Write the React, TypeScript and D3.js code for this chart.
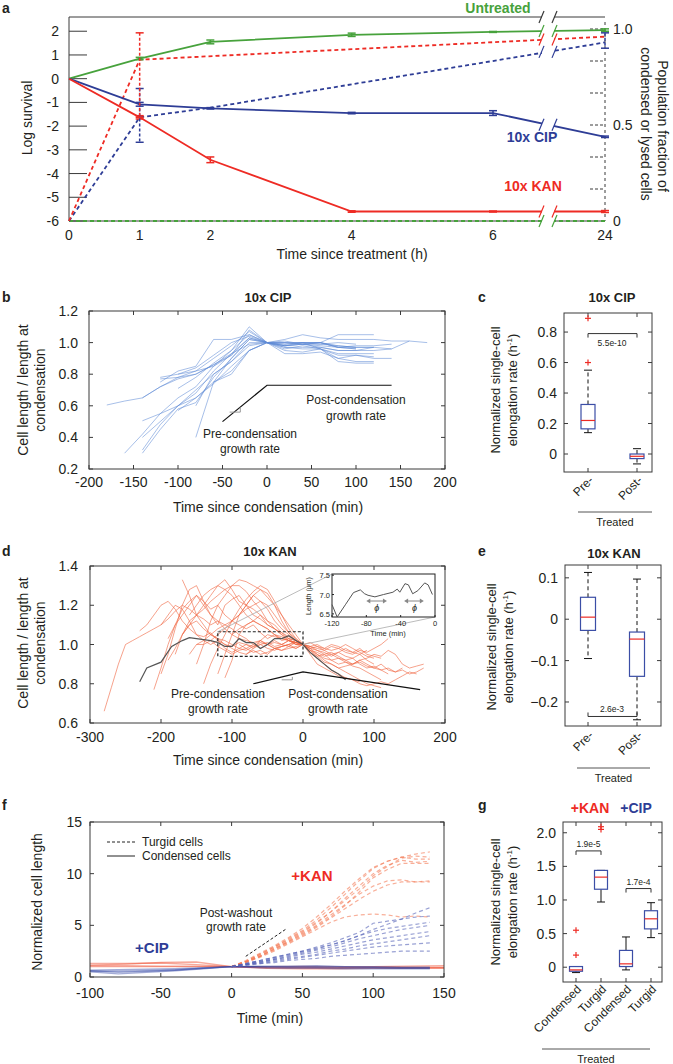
import React from "react";
import * as d3 from "d3";

const FONT = "'Liberation Sans', Arial, Helvetica, sans-serif";
const GREEN = "#47a23c";
const BLUE = "#2e3d96";
const RED = "#ee2b24";
const BOXBLUE = "#3b4ea6";
const AX = "#3a3a3a";
const TXT = "#231f20";

// ---------- Panel a ----------
const timesA = [0, 1, 2, 4, 6, 24];
const untreatedLog = [0, 0.85, 1.55, 1.85, 1.97, 2.05];
const untreatedLogErr = [0, 0.05, 0.08, 0.07, 0.02, 0.05];
const cipLog = [0, -1.08, -1.25, -1.45, -1.45, -2.45];
const cipLogErr = [0, 0.08, 0.03, 0.03, 0.1, 0.03];
const kanLog = [0, -1.63, -3.42, -5.6, -5.6, -5.6];
const kanLogErr = [0, 0.07, 0.12, 0.03, 0.02, 0.04];
const cipFracTimes = [0, 1, 2, 24];
const cipFrac = [0, 0.54, 0.59, 0.93];
const cipFracLo = [0, 0.41, 0.59, 0.9];
const cipFracHi = [0, 0.69, 0.59, 0.98];
const kanFracTimes = [0, 1, 24];
const kanFrac = [0, 0.84, 0.96];
const kanFracLo = [0, 0.54, 0.96];
const kanFracHi = [0, 0.98, 0.96];
const untreatedFrac = [0, 0, 0, 0, 0, 0];
const logTicksA = [-6, -5, -4, -3, -2, -1, 0, 1, 2];
const fracLabelsA = [0, 0.5, 1.0];
const fracTickMarksA = [1 / 6, 2 / 6, 3 / 6, 4 / 6, 5 / 6, 1];

// ---------- Panel b (10x CIP traces, 20-min steps) ----------
const cipTraceStarts = [-180, -160, -140, -140, -140, -80, -140, -120, -100, -100, -80, -60, -120, -100, -120, -140];
const cipTraceValues = [
  [0.605, 0.63, 0.65, 0.72, 0.77, 0.8, 0.86, 0.93, 0.99, 1.0, 0.98, 1.0, 1.0, 0.98, 0.97, 0.97],
  [0.3, 0.42, 0.55, 0.65, 0.72, 0.85, 0.95, 1.05, 1.0, 1.02, 1.05, 1.03, 1.02, 1.02, 1.02, 1.01, 1.01],
  [0.3, 0.45, 0.58, 0.62, 0.78, 0.9, 1.02, 1.0, 0.99, 1.0, 1.0, 1.05, 1.05, 1.05],
  [0.32, 0.48, 0.6, 0.68, 0.82, 0.93, 1.03, 1.0, 0.93, 0.93, 0.94, 0.9, 0.92, 0.9, 0.9],
  [0.505, 0.55, 0.6, 0.7, 0.8, 0.88, 0.98, 1.0, 0.96, 0.98, 0.96, 0.88, 0.87, 0.87],
  [0.4, 0.75, 0.8, 0.95, 1.0, 1.0, 1.0, 0.99, 0.98, 0.97, 0.97, 0.96, 1.01, 1.0],
  [0.65, 0.72, 0.78, 0.82, 0.85, 0.92, 1.08, 1.0, 0.97, 0.97, 0.97, 0.95, 0.95, 0.95, 0.96],
  [0.75, 0.82, 0.85, 1.02, 1.02, 1.05, 1.0, 0.98, 0.99, 1.0, 0.97, 0.96],
  [0.71, 0.78, 0.87, 0.95, 1.1, 1.0, 1.0, 0.99, 0.99, 1.0, 0.99],
  [0.8, 0.82, 0.9, 0.98, 1.07, 1.0, 0.97, 0.96, 0.96, 0.93, 0.93, 0.93],
  [0.6, 0.8, 0.88, 1.0, 1.0, 1.01, 0.99, 0.98, 0.97, 0.98, 0.98, 0.99],
  [0.75, 0.82, 0.95, 1.0, 0.98, 0.99, 1.0, 0.97, 0.96],
  [0.77, 0.78, 0.8, 0.86, 0.92, 1.03, 1.0, 1.0, 1.0, 0.96, 0.92, 0.92, 0.91],
  [0.57, 0.65, 0.74, 0.85, 0.95, 1.0, 0.95, 0.94, 0.96, 0.9, 0.88, 0.88],
  [0.78, 0.8, 0.84, 0.92, 1.0, 1.04, 1.0, 0.98, 0.99, 0.97, 0.95, 0.95, 0.97],
  [0.4, 0.5, 0.6, 0.65, 0.75, 0.9, 1.02, 1.0, 0.99, 1.0, 1.0, 0.97, 0.97],
];
const xTicksB = [-200, -150, -100, -50, 0, 50, 100, 150, 200];
const yTicksB = [0.2, 0.4, 0.6, 0.8, 1.0, 1.2];

// ---------- Panel c ----------
const catsPrePost = ["Pre-", "Post-"];
const cipBoxStats = [
  [0.14, 0.165, 0.22, 0.325, 0.55],
  [-0.065, -0.03, -0.015, 0.0, 0.035],
];
const cipOutliers = [[0.6, 0.89], []];
const yTicksC = [0, 0.2, 0.4, 0.6, 0.8];

// ---------- Panel d (10x KAN traces, 10-min steps) ----------
const kanPreStarts = [-280, -230, -210, -200, -190, -170, -180, -160, -150, -140, -120, -110, -200, -160, -130, -190, -150, -100, -90, -170, -80];
const kanPreValues = [
  [0.66, 0.78, 0.9, 1.0, 1.02, 1.04, 1.06, 1.08, 1.1, 1.13, 1.17, 1.2, 1.18, 1.15, 1.13, 1.1, 1.12, 1.08, 1.05, 1.03, 1.02, 1.01, 1.02, 1.0, 1.01, 1.0, 1.02, 1.01, 1.0],
  [1.07, 1.1, 1.15, 1.2, 1.22, 1.18, 1.12, 1.08, 1.05, 1.04, 1.06, 1.02, 1.0, 0.99, 1.01, 1.0, 0.98, 1.0, 1.01, 0.99, 1.0, 1.02, 1.0, 1.0],
  [0.77, 0.88, 1.0, 1.1, 1.18, 1.22, 1.25, 1.2, 1.15, 1.12, 1.1, 1.08, 1.05, 1.03, 1.0, 0.98, 1.0, 1.02, 1.0, 0.99, 1.01, 1.0],
  [0.85, 0.95, 1.08, 1.2, 1.28, 1.3, 1.22, 1.18, 1.2, 1.15, 1.12, 1.1, 1.08, 1.1, 1.06, 1.03, 1.05, 1.02, 1.03, 1.0, 1.0],
  [1.03, 1.1, 1.15, 1.2, 1.25, 1.22, 1.15, 1.1, 1.2, 1.23, 1.25, 1.2, 1.18, 1.15, 1.1, 1.08, 1.06, 1.04, 1.02, 1.0],
  [1.33, 1.25, 1.15, 1.1, 1.05, 1.03, 1.02, 1.0, 0.98, 1.0, 0.99, 1.01, 1.0, 0.98, 0.99, 1.0, 1.02, 1.0],
  [0.95, 1.05, 1.12, 1.15, 1.2, 1.25, 1.3, 1.28, 1.25, 1.2, 1.15, 1.12, 1.1, 1.08, 1.05, 1.04, 1.02, 1.01, 1.0],
  [1.15, 1.2, 1.25, 1.28, 1.3, 1.33, 1.28, 1.22, 1.2, 1.15, 1.13, 1.1, 1.08, 1.05, 1.03, 1.02, 1.0],
  [0.9, 1.0, 1.12, 1.2, 1.25, 1.3, 1.33, 1.32, 1.3, 1.28, 1.24, 1.2, 1.15, 1.1, 1.05, 1.0],
  [0.8, 0.9, 0.98, 1.05, 1.12, 1.18, 1.23, 1.27, 1.3, 1.28, 1.22, 1.15, 1.08, 1.03, 1.0],
  [0.85, 0.95, 1.05, 1.15, 1.2, 1.25, 1.28, 1.26, 1.2, 1.12, 1.06, 1.02, 1.0],
  [0.83, 0.92, 1.05, 1.1, 1.12, 1.1, 1.08, 1.05, 1.03, 1.02, 1.0, 1.0],
  [1.1, 1.15, 1.2, 1.18, 1.12, 1.05, 1.02, 1.0, 1.02, 0.98, 0.96, 0.98, 0.97, 0.99, 1.0, 0.98, 0.97, 0.99, 1.0, 0.98, 1.0],
  [0.95, 1.0, 1.02, 1.05, 1.08, 1.1, 1.12, 1.15, 1.18, 1.2, 1.22, 1.2, 1.15, 1.1, 1.06, 1.03, 1.0],
  [1.02, 1.05, 1.08, 1.12, 1.15, 1.2, 1.25, 1.22, 1.18, 1.12, 1.08, 1.05, 1.02, 1.0],
  [0.92, 0.98, 1.05, 1.1, 1.12, 1.08, 1.05, 1.03, 1.0, 0.98, 0.96, 0.95, 0.97, 0.95, 0.96, 0.98, 0.97, 0.98, 0.99, 1.0],
  [1.0, 1.0, 1.02, 0.99, 0.97, 0.95, 0.97, 0.98, 0.96, 0.97, 0.95, 0.98, 0.97, 0.99, 0.98, 1.0],
  [1.05, 1.08, 1.1, 1.12, 1.15, 1.12, 1.1, 1.06, 1.03, 1.02, 1.0],
  [1.0, 0.98, 1.0, 1.02, 1.0, 0.98, 0.99, 1.0, 1.01, 1.0],
  [1.05, 1.1, 1.15, 1.18, 1.22, 1.25, 1.28, 1.3, 1.3, 1.27, 1.22, 1.18, 1.12, 1.08, 1.05, 1.02, 1.01, 1.0],
  [0.95, 0.98, 1.02, 1.05, 1.04, 1.03, 1.02, 1.01, 1.0],
];
const kanPostValues = [
  [1.0, 0.97, 0.95, 0.92, 0.9, 0.88, 0.86, 0.84, 0.82, 0.8, 0.79, 0.78],
  [1.0, 0.98, 0.97, 0.95, 0.96, 0.94, 0.92, 0.93, 0.9, 0.88, 0.89, 0.87, 0.88, 0.86, 0.87, 0.85, 0.86, 0.88],
  [1.0, 0.99, 1.0, 0.98, 0.97, 0.98, 0.96, 0.95, 0.97, 0.96, 0.98, 1.0, 1.03],
  [1.0, 0.96, 0.93, 0.9, 0.87, 0.85, 0.83, 0.82, 0.8, 0.79, 0.8, 0.81, 0.8, 0.82, 0.84, 0.86, 0.85],
  [1.0, 0.98, 0.99, 0.97, 0.95, 0.96, 0.94, 0.93, 0.95, 0.92, 0.9],
  [1.0, 1.01, 0.99, 0.98, 1.0, 0.99, 0.97, 0.96, 0.98, 0.95, 0.94, 0.93],
  [1.0, 0.95, 0.9, 0.88, 0.86, 0.84, 0.83, 0.82, 0.81],
  [1.0, 0.97, 0.96, 0.94, 0.95, 0.93, 0.92, 0.9, 0.91, 0.89, 0.88, 0.9, 0.87, 0.86, 0.88],
  [1.0, 0.99, 0.97, 0.96, 0.94, 0.96, 0.98, 0.96, 0.95, 0.97],
  [1.0, 0.98, 0.95, 0.93, 0.92, 0.9, 0.91, 0.89, 0.88, 0.86, 0.84, 0.82],
  [1.0, 0.96, 0.94, 0.91, 0.9, 0.88, 0.89, 0.9, 0.92, 0.9, 0.88, 0.87, 0.85],
  [1.0, 0.99, 0.98, 0.97, 0.99, 0.98, 1.0, 0.98, 0.96, 0.94, 0.93],
  [1.0, 0.97, 0.94, 0.95, 0.92, 0.93, 0.91, 0.9, 0.92, 0.93, 0.95, 0.94, 0.97, 0.95, 0.9, 0.88, 0.89, 0.9],
];
const kanExampleT = [-230, -220, -200, -185, -170, -160, -150, -130, -120, -110, -100, -90, -80, -70, -60, -50, -40, -30, -20, -10, 0, 10, 20, 30, 40, 50, 60];
const kanExampleL = [0.81, 0.88, 0.91, 0.99, 1.02, 1.035, 1.03, 1.02, 1.01, 0.99, 0.99, 1.03, 1.01, 1.01, 0.98, 1.0, 1.03, 1.03, 1.045, 1.02, 1.0, 0.96, 0.93, 0.9, 0.87, 0.85, 0.82];
const insetT = [-120, -114, -104, -95, -87, -82, -78, -70, -60, -49, -44, -41, -35, -31, -26, -20, -12, -8, -3];
const insetL = [6.74, 6.42, 6.75, 7.05, 7.12, 7.02, 6.98, 6.94, 7.0, 7.06, 7.14, 7.06, 7.28, 7.25, 7.02, 7.1, 7.3, 7.25, 7.0];
const xTicksD = [-300, -200, -100, 0, 100, 200];
const yTicksD = [0.6, 0.8, 1.0, 1.2, 1.4];
const insetXTicks = [-120, -80, -40, 0];
const insetYTicks = [6.5, 7.0, 7.5];

// ---------- Panel e ----------
const kanBoxStats = [
  [-0.095, -0.027, 0.005, 0.053, 0.113],
  [-0.243, -0.138, -0.048, -0.031, 0.097],
];
const yTicksE = [-0.2, -0.1, 0, 0.1];

// ---------- Panel f ----------
const fTurgidT = [0, 10, 20, 30, 40, 50, 60, 70, 80, 90, 100, 110, 120, 130, 140];
const fKanTurgid = [
  [1, 1.6, 2.3, 3.0, 3.8, 4.7, 5.8, 7.0, 8.3, 9.5, 10.6, 11.2, 11.6, 11.9, 12.1],
  [1, 1.5, 2.2, 2.9, 3.7, 4.5, 5.5, 6.7, 8.0, 9.3, 10.5, 11.2, 11.6, 11.4, 11.4],
  [1, 1.5, 2.1, 2.8, 3.5, 4.3, 5.2, 6.3, 7.6, 8.8, 10.0, 10.8, 11.3, 11.1, 11.2],
  [1, 1.5, 2.0, 2.7, 3.4, 4.2, 5.0, 6.0, 7.0, 8.0, 8.8, 9.3, 9.4, 9.2, 9.3],
  [1, 1.4, 2.0, 2.6, 3.3, 4.0, 4.8, 5.7, 6.6, 7.5, 8.3, 8.9, 9.2, 9.2, 9.2],
  [1, 1.4, 1.9, 2.5, 3.2, 3.9, 4.6, 5.3, 5.8, 6.0, 6.1, 6.0, 5.8, 5.9, 5.8],
  [1, 1.5, 2.2, 2.9, 3.6, 4.4, 5.3, 6.3, 7.4, 8.5, 9.8, 10.7, 11.5, 11.7, 11.6],
  [1, 1.4, 2.0, 2.7, 3.4, 4.1, 4.9, 5.8, 6.9, 8.2, 9.6, 10.4, 11.0, 11.0, 11.0],
];
const fCipTurgid = [
  [1, 1.3, 1.6, 1.9, 2.2, 2.5, 2.8, 3.1, 3.5, 4.0, 4.6, 5.1, 5.6, 6.2, 6.7],
  [1, 1.3, 1.6, 1.9, 2.2, 2.5, 2.9, 3.3, 3.8, 4.3, 5.2, 5.4, 5.6, 5.8, 5.9],
  [1, 1.3, 1.5, 1.8, 2.1, 2.4, 2.7, 3.1, 3.5, 4.0, 4.4, 4.7, 4.9, 5.1, 5.3],
  [1, 1.2, 1.5, 1.7, 2.0, 2.3, 2.6, 2.9, 3.3, 3.7, 4.0, 4.3, 4.6, 4.8, 5.0],
  [1, 1.2, 1.4, 1.7, 1.9, 2.2, 2.4, 2.7, 3.0, 3.3, 3.6, 3.8, 4.0, 4.2, 4.4],
  [1, 1.2, 1.4, 1.6, 1.8, 2.0, 2.2, 2.5, 2.7, 3.0, 3.2, 3.4, 3.6, 3.8, 4.0],
  [1, 1.2, 1.3, 1.5, 1.7, 1.9, 2.1, 2.3, 2.5, 2.7, 2.9, 3.0, 3.1, 3.2, 3.3],
  [1, 1.1, 1.3, 1.4, 1.6, 1.7, 1.8, 2.0, 2.1, 2.2, 2.3, 2.4, 2.5, 2.5, 2.5],
];
const fKanSolidT = [-100, -75, -50, -25, 0, 25, 50, 75, 100, 125, 150];
const fKanSolid = [
  [1.3, 1.3, 1.35, 1.2, 1.0, 0.85, 0.8, 0.8, 0.85, 0.9, 0.95],
  [1.0, 1.0, 1.0, 1.0, 1.0, 0.95, 0.95, 0.9, 0.9, 0.85, 0.85],
  [1.15, 1.25, 1.4, 1.45, 1.0, 0.9, 0.88, 0.9, 1.0, 1.05, 1.1],
  [1.1, 1.1, 1.05, 1.05, 1.0, 1.0, 1.02, 1.0, 0.98, 0.95, 0.9],
];
const fCipSolidT = [-100, -80, -60, -40, -20, 0, 20, 40, 60, 80, 100, 120, 140];
const fCipSolid = [
  [0.5, 0.3, 0.45, 0.6, 0.8, 1.0, 1.0, 1.0, 0.95, 0.9, 0.9, 0.85, 0.85],
  [0.55, 0.55, 0.6, 0.7, 0.85, 1.0, 1.05, 1.05, 1.1, 1.0, 0.95, 0.9, 0.9],
  [0.65, 0.7, 0.75, 0.8, 0.9, 1.0, 0.9, 0.85, 0.85, 0.8, 0.8, 0.8, 0.8],
  [0.6, 0.45, 0.55, 0.65, 0.85, 1.0, 1.0, 0.95, 1.0, 1.0, 1.0, 0.95, 0.95],
];
const xTicksF = [-100, -50, 0, 50, 100, 150];
const yTicksF = [0, 5, 10, 15];

// ---------- Panel g ----------
const catsG = ["Condensed", "Turgid", "Condensed ", "Turgid "];
const gBoxStats = [
  [-0.08, -0.06, -0.04, 0.01, 0.01],
  [0.97, 1.16, 1.34, 1.44, 1.44],
  [-0.04, 0.01, 0.05, 0.25, 0.45],
  [0.44, 0.57, 0.72, 0.84, 0.96],
];
const gOutliers = [[0.55, 0.18], [2.05, 2.09], [], []];
const yTicksG = [0, 0.5, 1.0, 1.5, 2.0];

// ---------- helpers ----------
const fmt1 = (v: number) => (Math.abs(v) < 1e-9 ? "0" : d3.format(".1f")(v));

function Frame({ x0, x1, y0, y1, xt, yt, len = 4 }: any) {
  return (
    <g stroke={AX} strokeWidth={1} fill="none">
      <rect x={x0} y={y0} width={x1 - x0} height={y1 - y0} />
      {xt.map((x: number, i: number) => (
        <g key={"x" + i}>
          <line x1={x} x2={x} y1={y1} y2={y1 - len} />
          <line x1={x} x2={x} y1={y0} y2={y0 + len} />
        </g>
      ))}
      {yt.map((y: number, i: number) => (
        <g key={"y" + i}>
          <line x1={x0} x2={x0 + len} y1={y} y2={y} />
          <line x1={x1} x2={x1 - len} y1={y} y2={y} />
        </g>
      ))}
    </g>
  );
}

function YLabel2({ x1, x2, cy, l1, l2, size = 14 }: any) {
  return (
    <g fill={TXT} fontSize={size} textAnchor="middle">
      <text transform={`translate(${x1},${cy}) rotate(-90)`}>{l1}</text>
      <text transform={`translate(${x2},${cy}) rotate(-90)`}>{l2}</text>
    </g>
  );
}

function RateLabel({ x1, x2, cy }: any) {
  return (
    <g fill={TXT} fontSize={13} textAnchor="middle">
      <text transform={`translate(${x1},${cy}) rotate(-90)`}>Normalized single-cell</text>
      <text transform={`translate(${x2},${cy}) rotate(-90)`}>
        <tspan>elongation rate (h</tspan>
        <tspan dy={-5} fontSize={8}>-1</tspan>
        <tspan dy={5}>)</tspan>
      </text>
    </g>
  );
}

function Box({ cx, s, y, w = 14, dashed = true, outliers = [] }: any) {
  const dash = dashed ? "4,3" : undefined;
  return (
    <g>
      <line x1={cx} x2={cx} y1={y(s[3])} y2={y(s[4])} stroke="#111" strokeDasharray={dash} />
      <line x1={cx} x2={cx} y1={y(s[1])} y2={y(s[0])} stroke="#111" strokeDasharray={dash} />
      <line x1={cx - 4} x2={cx + 4} y1={y(s[4])} y2={y(s[4])} stroke="#111" />
      <line x1={cx - 4} x2={cx + 4} y1={y(s[0])} y2={y(s[0])} stroke="#111" />
      <rect x={cx - w / 2} y={y(s[3])} width={w} height={Math.max(1, y(s[1]) - y(s[3]))} fill="#fff" stroke={BOXBLUE} strokeWidth={1.2} />
      <line x1={cx - w / 2} x2={cx + w / 2} y1={y(s[2])} y2={y(s[2])} stroke={RED} strokeWidth={1.2} />
      {outliers.map((o: number, i: number) => (
        <g key={i} stroke={RED} strokeWidth={1.2}>
          <line x1={cx - 3} x2={cx + 3} y1={y(o)} y2={y(o)} />
          <line x1={cx} x2={cx} y1={y(o) - 3} y2={y(o) + 3} />
        </g>
      ))}
    </g>
  );
}

function RotLabels({ xs, cats, y, size = 12 }: any) {
  return (
    <g fill={TXT} fontSize={size} textAnchor="end">
      {cats.map((c: string, i: number) => (
        <text key={i} transform={`translate(${xs(c) + 6},${y}) rotate(-45)`}>{c.trim()}</text>
      ))}
    </g>
  );
}

function Treated({ x0, x1, y }: any) {
  return (
    <g>
      <line x1={x0} x2={x1} y1={y} y2={y} stroke="#555" strokeWidth={1} />
      <text x={(x0 + x1) / 2} y={y + 14} textAnchor="middle" fontSize={11} fill={TXT}>Treated</text>
    </g>
  );
}

// ---------- Panel a ----------
function PanelA() {
  const x = d3.scaleLinear().domain([0, 6, 24]).range([69, 493, 605]);
  const yL = d3.scaleLinear().domain([-6, 2.6]).range([221, 17]);
  const yR = d3.scaleLinear().domain([0, 1]).range([221, 29]);
  const L = 69, R = 605, T = 17, B = 221;
  const brk = 548;
  const line = d3.line();
  const ptsSolid = (vals: number[]) => timesA.map((t, i) => [x(t), yL(vals[i])] as [number, number]);
  const ptsFrac = (ts: number[], vals: number[]) => ts.map((t, i) => [x(t), yR(vals[i])] as [number, number]);
  const yAt = (pts: [number, number][], px: number) => {
    for (let i = 0; i < pts.length - 1; i++) {
      const [ax, ay] = pts[i], [bx, by] = pts[i + 1];
      if (px >= ax && px <= bx) return ay + ((px - ax) / (bx - ax)) * (by - ay);
    }
    return pts[pts.length - 1][1];
  };
  const gS = ptsSolid(untreatedLog), bS = ptsSolid(cipLog), rS = ptsSolid(kanLog);
  const bD = ptsFrac(cipFracTimes, cipFrac), rD = ptsFrac(kanFracTimes, kanFrac), gD = ptsFrac(timesA, untreatedFrac);
  const Err = ({ cx, y1, y2, color, dashed }: any) => (
    <g stroke={color} strokeWidth={1.5}>
      <line x1={cx} x2={cx} y1={y1} y2={y2} strokeDasharray={dashed ? "3,2" : undefined} />
      <line x1={cx - 4} x2={cx + 4} y1={y1} y2={y1} />
      <line x1={cx - 4} x2={cx + 4} y1={y2} y2={y2} />
    </g>
  );
  const breaks: [number, string][] = [
    [T, AX], [yAt(gS, brk), GREEN], [yAt(rD, brk), RED], [yAt(bD, brk), BLUE], [yAt(bS, brk), BLUE], [yAt(rS, brk), RED], [B, GREEN],
  ];
  return (
    <g>
      <text x={2} y={13} fontSize={14} fontWeight="bold" fill={TXT}>a</text>
      <line x1={L} x2={L} y1={T} y2={B} stroke={AX} />
      <line x1={L} x2={R} y1={T} y2={T} stroke={AX} />
      <line x1={L} x2={R} y1={B} y2={B} stroke={AX} />
      <line x1={R} x2={R} y1={T + 5} y2={B} stroke={AX} strokeDasharray="3,3" />
      {logTicksA.map((v) => (
        <g key={v}>
          <line x1={L} x2={L + 18} y1={yL(v)} y2={yL(v)} stroke={AX} />
          <text x={59} y={yL(v) + 5} textAnchor="end" fontSize={14} fill={TXT}>{v}</text>
        </g>
      ))}
      {fracTickMarksA.map((v, i) => (
        <line key={i} x1={R - 15} x2={R} y1={yR(v)} y2={yR(v)} stroke={AX} strokeDasharray="3,2" />
      ))}
      {fracLabelsA.map((v) => (
        <text key={v} x={613} y={yR(v) + 5} fontSize={14} fill={TXT}>{v === 0 ? "0" : d3.format(".1f")(v)}</text>
      ))}
      {timesA.map((t) => (
        <text key={t} x={x(t)} y={240} textAnchor="middle" fontSize={14} fill={TXT}>{t}</text>
      ))}
      <text x={352} y={259} textAnchor="middle" fontSize={14} fill={TXT}>Time since treatment (h)</text>
      <text transform="translate(32,118) rotate(-90)" textAnchor="middle" fontSize={14} fill={TXT}>Log survival</text>
      <text transform="translate(658,126) rotate(90)" textAnchor="middle" fontSize={14} fill={TXT}>Population fraction of</text>
      <text transform="translate(641,124) rotate(90)" textAnchor="middle" fontSize={14} fill={TXT}>condensed or lysed cells</text>
      <path d={line(gD) || ""} stroke={GREEN} strokeWidth={1.8} fill="none" strokeDasharray="4,3" />
      <path d={line(bD) || ""} stroke={BLUE} strokeWidth={1.8} fill="none" strokeDasharray="4,3" />
      <path d={line(rD) || ""} stroke={RED} strokeWidth={1.8} fill="none" strokeDasharray="4,3" />
      <path d={line(gS) || ""} stroke={GREEN} strokeWidth={1.8} fill="none" />
      <path d={line(bS) || ""} stroke={BLUE} strokeWidth={1.8} fill="none" />
      <path d={line(rS) || ""} stroke={RED} strokeWidth={1.8} fill="none" />
      {timesA.map((t, i) => i > 0 && (
        <g key={"e" + i}>
          <Err cx={x(t)} y1={yL(untreatedLog[i] + untreatedLogErr[i])} y2={yL(untreatedLog[i] - untreatedLogErr[i])} color={GREEN} />
          <Err cx={x(t)} y1={yL(cipLog[i] + cipLogErr[i])} y2={yL(cipLog[i] - cipLogErr[i])} color={BLUE} />
          <Err cx={x(t)} y1={yL(kanLog[i] + kanLogErr[i])} y2={yL(kanLog[i] - kanLogErr[i])} color={RED} />
        </g>
      ))}
      {cipFracTimes.map((t, i) => i > 0 && cipFracHi[i] > cipFracLo[i] && (
        <Err key={"cf" + i} cx={x(t)} y1={yR(cipFracHi[i])} y2={yR(cipFracLo[i])} color={BLUE} dashed />
      ))}
      {kanFracTimes.map((t, i) => i > 0 && kanFracHi[i] > kanFracLo[i] && (
        <Err key={"kf" + i} cx={x(t)} y1={yR(kanFracHi[i])} y2={yR(kanFracLo[i])} color={RED} dashed />
      ))}
      <rect x={brk - 6} y={10} width={12} height={216} fill="#fff" />
      {breaks.map(([yy, c], i) => (
        <g key={"b" + i} stroke={c} strokeWidth={1.2}>
          <line x1={brk - 9} x2={brk - 4} y1={yy + 6} y2={yy - 6} />
          <line x1={brk + 4} x2={brk + 9} y1={yy + 6} y2={yy - 6} />
        </g>
      ))}
      <text x={498} y={13} textAnchor="middle" fontSize={14} fontWeight="bold" fill={GREEN}>Untreated</text>
      <text x={532} y={142} textAnchor="middle" fontSize={14} fontWeight="bold" fill={BLUE}>10x CIP</text>
      <text x={533} y={191} textAnchor="middle" fontSize={14} fontWeight="bold" fill={RED}>10x KAN</text>
    </g>
  );
}

// ---------- Panel b ----------
function PanelB() {
  const x = d3.scaleLinear().domain([-200, 200]).range([89, 445]);
  const y = d3.scaleLinear().domain([0.2, 1.2]).range([469, 311]);
  const path = (start: number, vals: number[]) =>
    d3.line<number>().x((_, i) => x(start + i * 20)).y((v) => y(v))(vals) || "";
  return (
    <g>
      <text x={2} y={302} fontSize={14} fontWeight="bold" fill={TXT}>b</text>
      <text x={268} y={302} textAnchor="middle" fontSize={13} fontWeight="bold" fill={TXT}>10x CIP</text>
      {cipTraceValues.map((vals, i) => (
        <path key={i} d={path(cipTraceStarts[i], vals)} stroke="#5f8bd6" strokeOpacity={0.55} strokeWidth={1} fill="none" />
      ))}
      <Frame x0={89} x1={445} y0={311} y1={469} xt={xTicksB.map(x)} yt={yTicksB.map(y)} />
      {yTicksB.map((v) => (
        <text key={v} x={78} y={y(v) + 5} textAnchor="end" fontSize={14} fill={TXT}>{fmt1(v)}</text>
      ))}
      {xTicksB.map((v) => (
        <text key={v} x={x(v)} y={487} textAnchor="middle" fontSize={14} fill={TXT}>{v}</text>
      ))}
      <text x={268} y={512} textAnchor="middle" fontSize={14} fill={TXT}>Time since condensation (min)</text>
      <YLabel2 x1={28} x2={45} cy={390} l1="Cell length / length at" l2="condensation" />
      <path d={`M${x(-50)},${y(0.5)}L${x(0)},${y(0.73)}L${x(140)},${y(0.73)}`} stroke="#111" strokeWidth={1.2} fill="none" />
      <path d={`M${x(-30)},${y(0.56)}L${x(-30)},${y(0.59)}M${x(-42)},${y(0.56)}L${x(-30)},${y(0.56)}`} stroke="#999" strokeWidth={1} fill="none" />
      <g fill={TXT} fontSize={12} textAnchor="middle">
        <text x={356} y={404}>Post-condensation</text>
        <text x={356} y={420}>growth rate</text>
        <text x={250} y={438}>Pre-condensation</text>
        <text x={250} y={453}>growth rate</text>
      </g>
    </g>
  );
}

// ---------- Panel c ----------
function PanelC() {
  const y = d3.scaleLinear().domain([-0.118, 0.925]).range([472, 313]);
  const xs = d3.scalePoint().domain(catsPrePost).range([588, 637]);
  const by = y(0.79);
  return (
    <g>
      <text x={478} y={302} fontSize={14} fontWeight="bold" fill={TXT}>c</text>
      <text x={612} y={302} textAnchor="middle" fontSize={13} fontWeight="bold" fill={TXT}>10x CIP</text>
      <Frame x0={564} x1={652} y0={313} y1={472} xt={catsPrePost.map((c) => xs(c))} yt={yTicksC.map(y)} />
      {cipBoxStats.map((s, i) => (
        <Box key={i} cx={xs(catsPrePost[i])} s={s} y={y} outliers={cipOutliers[i]} />
      ))}
      <path d={`M${xs("Pre-")},${by + 4}V${by}H${xs("Post-")}V${by + 4}`} stroke="#333" fill="none" />
      <text x={612} y={by + 12} textAnchor="middle" fontSize={8.5} fill={TXT}>5.5e-10</text>
      {yTicksC.map((v) => (
        <text key={v} x={557} y={y(v) + 5} textAnchor="end" fontSize={14} fill={TXT}>{fmt1(v)}</text>
      ))}
      <RateLabel x1={500} x2={517} cy={390} />
      <RotLabels xs={xs} cats={catsPrePost} y={481} />
      <Treated x0={578} x1={652} y={512} />
    </g>
  );
}

// ---------- Panel d ----------
function PanelD() {
  const x = d3.scaleLinear().domain([-300, 200]).range([90, 445]);
  const y = d3.scaleLinear().domain([0.6, 1.4]).range([723, 566]);
  const path = (start: number, vals: number[]) =>
    d3.line<number>().x((_, i) => x(start + i * 10)).y((v) => y(v))(vals) || "";
  const ix = d3.scaleLinear().domain([-120, 0]).range([332, 435]);
  const iy = d3.scaleLinear().domain([6.42, 7.53]).range([617, 574]);
  const insetPath = d3.line<number>().x((_, i) => ix(insetT[i])).y((v) => iy(v))(insetL) || "";
  const exPath = d3.line<number>().x((_, i) => x(kanExampleT[i])).y((v) => y(v))(kanExampleL) || "";
  const arrow = (a: number, b: number, yy: number) => (
    <g stroke="#888" fill="#888" strokeWidth={1}>
      <line x1={ix(a) + 3} x2={ix(b) - 3} y1={yy} y2={yy} />
      <path d={`M${ix(a)},${yy}l4,-2.5v5z`} stroke="none" />
      <path d={`M${ix(b)},${yy}l-4,-2.5v5z`} stroke="none" />
    </g>
  );
  return (
    <g>
      <text x={2} y={556} fontSize={14} fontWeight="bold" fill={TXT}>d</text>
      <text x={270} y={556} textAnchor="middle" fontSize={13} fontWeight="bold" fill={TXT}>10x KAN</text>
      <defs>
        <clipPath id="clipD"><rect x={90} y={566} width={355} height={157} /></clipPath>
      </defs>
      <g clipPath="url(#clipD)">
        {kanPreValues.map((vals, i) => (
          <path key={"p" + i} d={path(kanPreStarts[i], vals)} stroke="#f0643f" strokeOpacity={0.6} strokeWidth={1} fill="none" />
        ))}
        {kanPostValues.map((vals, i) => (
          <path key={"q" + i} d={path(0, vals)} stroke="#f0643f" strokeOpacity={0.6} strokeWidth={1} fill="none" />
        ))}
        <path d={exPath} stroke="#555" strokeWidth={1.2} fill="none" />
      </g>
      <Frame x0={90} x1={445} y0={566} y1={723} xt={xTicksD.map(x)} yt={yTicksD.map(y)} />
      <rect x={x(-120)} y={y(1.065)} width={x(0) - x(-120)} height={y(0.94) - y(1.065)} fill="none" stroke="#222" strokeWidth={1.2} strokeDasharray="3,2" />
      <line x1={x(-120)} y1={y(1.065)} x2={332} y2={574} stroke="#aaa" strokeWidth={0.8} />
      <line x1={x(0)} y1={y(1.0)} x2={435} y2={617} stroke="#aaa" strokeWidth={0.8} />
      <rect x={332} y={574} width={103} height={43} fill="#fff" stroke="#222" strokeWidth={1} />
      <path d={insetPath} stroke="#555" strokeWidth={1} fill="none" />
      {insetXTicks.map((v) => (
        <g key={v}>
          <line x1={ix(v)} x2={ix(v)} y1={617} y2={615} stroke="#222" />
          <text x={ix(v)} y={626} textAnchor="middle" fontSize={7.5} fill={TXT}>{v}</text>
        </g>
      ))}
      {insetYTicks.map((v) => (
        <g key={v}>
          <line x1={332} x2={334} y1={iy(v)} y2={iy(v)} stroke="#222" />
          <text x={330} y={iy(v) + 3} textAnchor="end" fontSize={7.5} fill={TXT}>{v.toFixed(1)}</text>
        </g>
      ))}
      <text transform="translate(311,596) rotate(-90)" textAnchor="middle" fontSize={7} fill={TXT}>Length (μm)</text>
      <text x={388} y={636} textAnchor="middle" fontSize={7.5} fill={TXT}>Time (min)</text>
      {arrow(-80, -56, 601)}
      {arrow(-36, -13, 601)}
      <text x={ix(-68)} y={611} textAnchor="middle" fontSize={9} fontStyle="italic" fill={TXT}>ϕ</text>
      <text x={ix(-24)} y={611} textAnchor="middle" fontSize={9} fontStyle="italic" fill={TXT}>ϕ</text>
      {yTicksD.map((v) => (
        <text key={v} x={78} y={y(v) + 5} textAnchor="end" fontSize={14} fill={TXT}>{fmt1(v)}</text>
      ))}
      {xTicksD.map((v) => (
        <text key={v} x={x(v)} y={742} textAnchor="middle" fontSize={14} fill={TXT}>{v}</text>
      ))}
      <text x={268} y={765} textAnchor="middle" fontSize={14} fill={TXT}>Time since condensation (min)</text>
      <YLabel2 x1={28} x2={45} cy={643} l1="Cell length / length at" l2="condensation" />
      <path d={`M${x(-70)},${y(0.8)}L${x(0)},${y(0.86)}L${x(165)},${y(0.77)}`} stroke="#111" strokeWidth={1.2} fill="none" />
      <path d={`M${x(-30)},${y(0.82)}L${x(-15)},${y(0.82)}L${x(-15)},${y(0.835)}`} stroke="#999" strokeWidth={1} fill="none" />
      <g fill={TXT} fontSize={12} textAnchor="middle">
        <text x={218} y={698}>Pre-condensation</text>
        <text x={218} y={713}>growth rate</text>
        <text x={338} y={698}>Post-condensation</text>
        <text x={338} y={713}>growth rate</text>
      </g>
    </g>
  );
}

// ---------- Panel e ----------
function PanelE() {
  const y = d3.scaleLinear().domain([-0.258, 0.131]).range([726, 565]);
  const xs = d3.scalePoint().domain(catsPrePost).range([588, 637]);
  const by = y(-0.235);
  return (
    <g>
      <text x={478} y={556} fontSize={14} fontWeight="bold" fill={TXT}>e</text>
      <text x={614} y={558} textAnchor="middle" fontSize={13} fontWeight="bold" fill={TXT}>10x KAN</text>
      <Frame x0={565} x1={661} y0={565} y1={726} xt={catsPrePost.map((c) => xs(c))} yt={yTicksE.map(y)} />
      {kanBoxStats.map((s, i) => (
        <Box key={i} cx={xs(catsPrePost[i])} s={s} y={y} w={15} />
      ))}
      <path d={`M${xs("Pre-")},${by - 4}V${by}H${xs("Post-")}V${by - 4}`} stroke="#333" fill="none" />
      <text x={612} y={by - 4} textAnchor="middle" fontSize={8.5} fill={TXT}>2.6e-3</text>
      {yTicksE.map((v) => (
        <text key={v} x={558} y={y(v) + 5} textAnchor="end" fontSize={14} fill={TXT}>{fmt1(v)}</text>
      ))}
      <RateLabel x1={496} x2={513} cy={647} />
      <RotLabels xs={xs} cats={catsPrePost} y={736} />
      <Treated x0={577} x1={650} y={768} />
    </g>
  );
}

// ---------- Panel f ----------
function PanelF() {
  const x = d3.scaleLinear().domain([-100, 150]).range([90, 444]);
  const y = d3.scaleLinear().domain([0, 15]).range([977, 822]);
  const mk = (ts: number[]) => (vals: number[]) =>
    d3.line<number>().x((_, i) => x(ts[i])).y((v) => y(v))(vals) || "";
  const pT = mk(fTurgidT), pK = mk(fKanSolidT), pC = mk(fCipSolidT);
  return (
    <g>
      <text x={2} y={810} fontSize={14} fontWeight="bold" fill={TXT}>f</text>
      <defs>
        <clipPath id="clipF"><rect x={90} y={822} width={354} height={155} /></clipPath>
      </defs>
      <g clipPath="url(#clipF)">
        {fKanSolid.map((v, i) => (
          <path key={"ks" + i} d={pK(v)} stroke="#f0553a" strokeOpacity={0.5} strokeWidth={1.4} fill="none" />
        ))}
        {fCipSolid.map((v, i) => (
          <path key={"cs" + i} d={pC(v)} stroke="#3446a6" strokeOpacity={0.45} strokeWidth={1.4} fill="none" />
        ))}
        {fKanTurgid.map((v, i) => (
          <path key={"kt" + i} d={pT(v)} stroke="#f47a55" strokeOpacity={0.6} strokeWidth={1.2} strokeDasharray="4,3" fill="none" />
        ))}
        {fCipTurgid.map((v, i) => (
          <path key={"ct" + i} d={pT(v)} stroke="#5563b8" strokeOpacity={0.6} strokeWidth={1.2} strokeDasharray="4,3" fill="none" />
        ))}
      </g>
      <Frame x0={90} x1={444} y0={822} y1={977} xt={xTicksF.map(x)} yt={yTicksF.map(y)} />
      {yTicksF.map((v) => (
        <text key={v} x={82} y={y(v) + 5} textAnchor="end" fontSize={14} fill={TXT}>{v}</text>
      ))}
      {xTicksF.map((v) => (
        <text key={v} x={x(v)} y={998} textAnchor="middle" fontSize={14} fill={TXT}>{v}</text>
      ))}
      <text x={270} y={1023} textAnchor="middle" fontSize={14} fill={TXT}>Time (min)</text>
      <text transform="translate(42,902) rotate(-90)" textAnchor="middle" fontSize={14} fill={TXT}>Normalized cell length</text>
      <line x1={107} x2={135} y1={842} y2={842} stroke="#222" strokeDasharray="3,2" />
      <text x={142} y={846} fontSize={12} fill={TXT}>Turgid cells</text>
      <line x1={107} x2={135} y1={856} y2={856} stroke="#222" />
      <text x={142} y={860} fontSize={12} fill={TXT}>Condensed cells</text>
      <text x={312} y={881} textAnchor="middle" fontSize={15} fontWeight="bold" fill={RED}>+KAN</text>
      <text x={152} y={953} textAnchor="middle" fontSize={15} fontWeight="bold" fill={BLUE}>+CIP</text>
      <text x={236} y={917} textAnchor="middle" fontSize={12} fill={TXT}>Post-washout</text>
      <text x={236} y={931} textAnchor="middle" fontSize={12} fill={TXT}>growth rate</text>
      <line x1={x(10)} y1={y(2)} x2={x(38)} y2={y(4.6)} stroke="#222" strokeDasharray="3,2" />
    </g>
  );
}

// ---------- Panel g ----------
function PanelG() {
  const y = d3.scaleLinear().domain([-0.22, 2.16]).range([982, 822]);
  const xs = d3.scalePoint().domain(catsG).range([576, 651]);
  const b1 = y(1.73), b2 = y(1.17);
  return (
    <g>
      <text x={478} y={810} fontSize={14} fontWeight="bold" fill={TXT}>g</text>
      <text x={590} y={813} textAnchor="middle" fontSize={14} fontWeight="bold" fill={RED}>+KAN</text>
      <text x={636} y={813} textAnchor="middle" fontSize={14} fontWeight="bold" fill={BLUE}>+CIP</text>
      <Frame x0={563} x1={662} y0={822} y1={982} xt={catsG.map((c) => xs(c))} yt={yTicksG.map(y)} />
      {gBoxStats.map((s, i) => (
        <Box key={i} cx={xs(catsG[i])} s={s} y={y} w={13} dashed={false} outliers={gOutliers[i]} />
      ))}
      <path d={`M${xs(catsG[0])},${b1 + 4}V${b1}H${xs(catsG[1])}V${b1 + 4}`} stroke="#333" fill="none" />
      <text x={(xs(catsG[0])! + xs(catsG[1])!) / 2} y={b1 - 4} textAnchor="middle" fontSize={8.5} fill={TXT}>1.9e-5</text>
      <path d={`M${xs(catsG[2])},${b2 + 4}V${b2}H${xs(catsG[3])}V${b2 + 4}`} stroke="#333" fill="none" />
      <text x={(xs(catsG[2])! + xs(catsG[3])!) / 2} y={b2 - 4} textAnchor="middle" fontSize={8.5} fill={TXT}>1.7e-4</text>
      {yTicksG.map((v) => (
        <text key={v} x={556} y={y(v) + 5} textAnchor="end" fontSize={14} fill={TXT}>{fmt1(v)}</text>
      ))}
      <RateLabel x1={500} x2={517} cy={902} />
      <RotLabels xs={xs} cats={catsG} y={990} />
      <Treated x0={542} x1={650} y={1049} />
    </g>
  );
}

export default function App() {
  return (
    <svg width={673} height={1064} style={{ position: "absolute", left: 0, top: 0, background: "#fff" }} fontFamily={FONT}>
      <rect width={673} height={1064} fill="#fff" />
      <PanelA />
      <PanelB />
      <PanelC />
      <PanelD />
      <PanelE />
      <PanelF />
      <PanelG />
    </svg>
  );
}
